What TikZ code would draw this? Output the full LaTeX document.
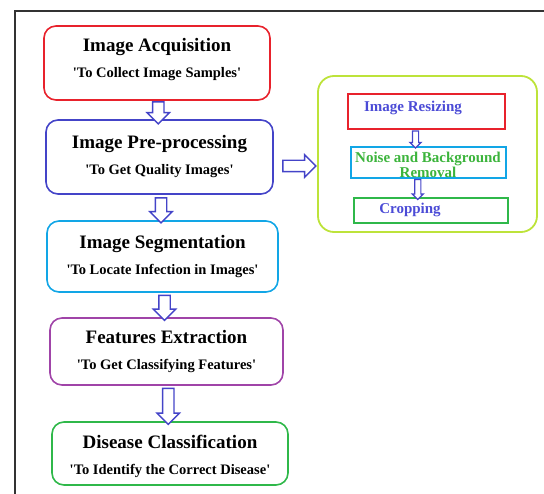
\documentclass[tikz,border=0pt]{standalone}
\usepackage{fontspec}
\setmainfont{Liberation Serif}
\usetikzlibrary{shapes.arrows,calc}

\definecolor{acqred}{HTML}{E8222C}
\definecolor{preblue}{HTML}{4444C8}
\definecolor{segcyan}{HTML}{12A6E6}
\definecolor{featpurple}{HTML}{A044A8}
\definecolor{clsgreen}{HTML}{2FB84A}
\definecolor{panelgreen}{HTML}{BDE33A}
\definecolor{textblue}{HTML}{4B4BD6}
\definecolor{textgreen}{HTML}{3CB43C}
\definecolor{framegray}{HTML}{333333}

\tikzset{
  stagebox/.style={draw, line width=1.6pt, rounded corners=12pt, align=center, inner sep=0pt,
    font=\fontsize{14.5}{17}\selectfont\bfseries},
  subbox/.style={draw, line width=1.8pt, inner sep=0pt},
  flowarrow/.style={single arrow, draw=preblue, line width=1.4pt, fill=white, inner xsep=0pt,
    inner ysep=5pt, minimum width=21pt, single arrow head extend=5.5pt, single arrow head indent=0pt},
  smallarrow/.style={single arrow, draw=preblue, line width=1.2pt, fill=white, inner xsep=0pt,
    inner ysep=2.5pt, minimum width=10pt, single arrow head extend=2.5pt, single arrow head indent=0pt},
  steptext/.style={font=\fontsize{15}{15}\selectfont\bfseries, inner sep=0pt},
}
\newcommand{\stagetitle}[1]{{\fontsize{19}{22}\selectfont #1}}
\newcommand{\sq}{\textquotesingle}

\begin{document}
\begin{tikzpicture}[x=1pt,y=-1pt]
  \useasboundingbox (0,0) rectangle (544,494);
  \draw[framegray, line width=1.5pt] (15,494) -- (15,11) -- (544,11);

  % main stages
  \node[stagebox, draw=acqred, minimum width=226pt, minimum height=74pt, text depth=10.5pt] (acq) at (157,63)
    {\stagetitle{Image Acquisition}\\[9pt]\sq To Collect Image Samples\sq};
  \node[stagebox, draw=preblue, minimum width=227pt, minimum height=74pt] (pre) at (159.5,157)
    {\stagetitle{Image Pre-processing}\\[9pt]\sq To Get Quality Images\sq};
  \node[stagebox, draw=segcyan, minimum width=231pt, minimum height=71pt] (seg) at (162.5,256.5)
    {\stagetitle{Image Segmentation}\\[9pt]\sq To Locate Infection in Images\sq};
  \node[stagebox, draw=featpurple, minimum width=233pt, minimum height=67pt] (feat) at (166.5,351.5)
    {\stagetitle{Features Extraction}\\[9pt]\sq To Get Classifying Features\sq};
  \node[stagebox, draw=clsgreen, minimum width=236pt, minimum height=63pt, text height=46pt] (cls) at (170,453.5)
    {\stagetitle{Disease Classification}\\[9pt]\sq To Identify the Correct Disease\sq};

  \node[flowarrow, rotate=-90, minimum height=22pt] (a1) at ($(acq.south)!.5!(pre.north)$) {};
  \node[flowarrow, rotate=-90, minimum height=25pt] (a2) at ($(pre.south)!.5!(seg.north)$) {};
  \node[flowarrow, rotate=-90, minimum height=25pt] (a3) at ($(seg.south)!.5!(feat.north)$) {};
  \node[flowarrow, rotate=-90, minimum height=36pt] (a4) at ($(feat.south)!.5!(cls.north)$) {};

  % pre-processing steps
  \node[draw=panelgreen, line width=1.8pt, rounded corners=16pt, minimum width=219pt,
    minimum height=156pt] (panel) at (427.5,154) {};
  \node[flowarrow, minimum height=33pt] (toPanel) at (296.5,166) {};

  \node[subbox, draw=acqred, minimum width=157pt, minimum height=35pt] (resize) at (426.5,111.5) {};
  \node[subbox, draw=segcyan, minimum width=155pt, minimum height=31pt] (noise) at (428.5,162.5) {};
  \node[subbox, draw=clsgreen, minimum width=154pt, minimum height=25pt] (crop) at (431,210.5) {};

  \node[steptext, text=textblue] (resizetxt) at (413,108) {Image Resizing};
  \node[steptext, text=textgreen, align=center] (noisetxt) at (428,165) {Noise and Background\\Removal};
  \node[steptext, text=textblue] (croptxt) at (410,210) {Cropping};

  \node[smallarrow, rotate=-90, minimum height=17pt] (s1) at ($(resize.south)!.5!(noise.north)+(-12,0)$) {};
  \node[smallarrow, rotate=-90, minimum height=20pt] (s2) at ($(noise.south)!.5!(crop.north)+(-12,0)$) {};
\end{tikzpicture}
\end{document}
